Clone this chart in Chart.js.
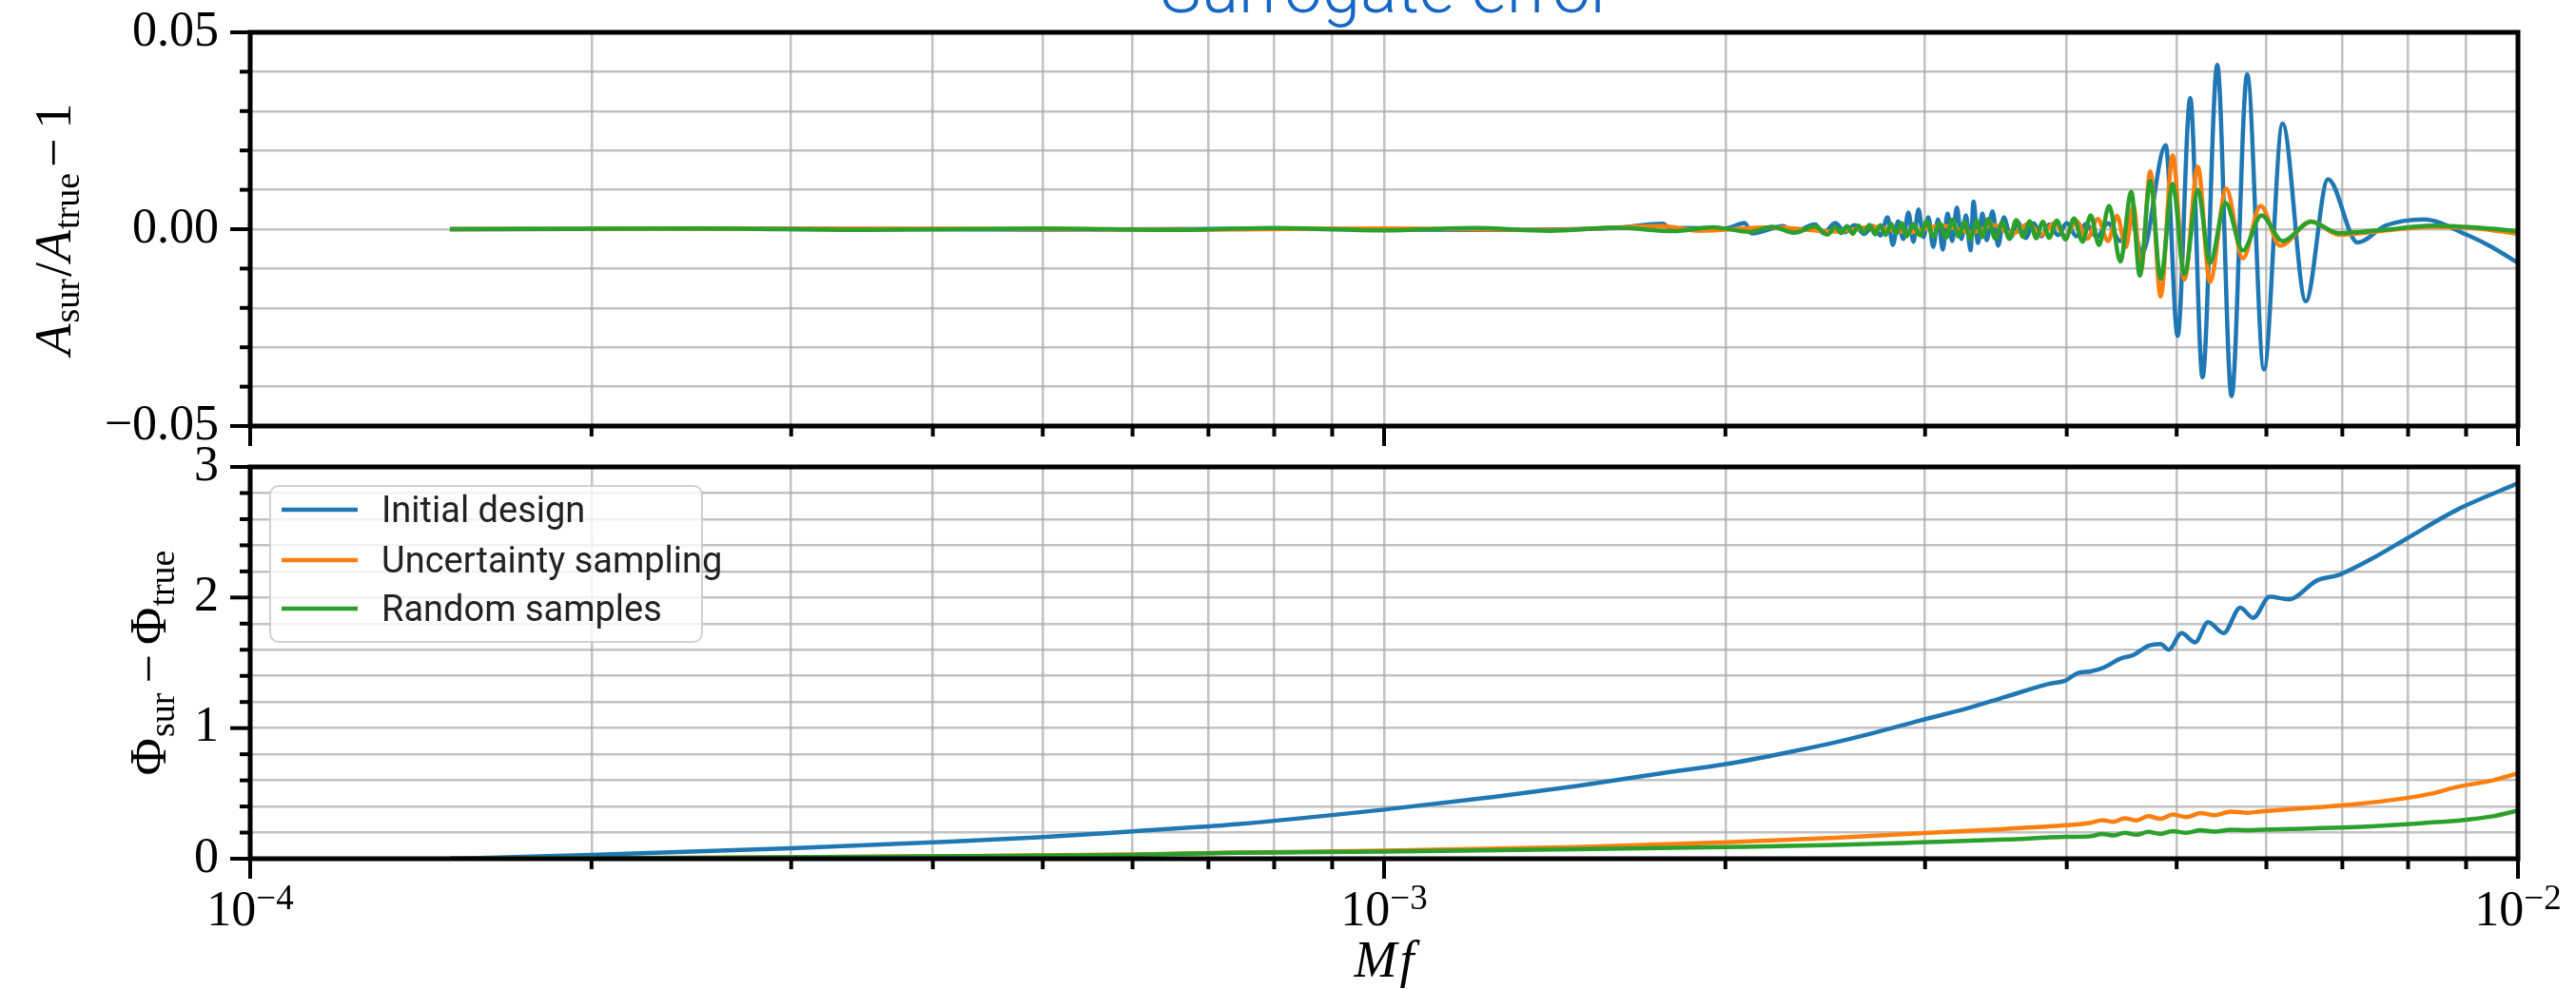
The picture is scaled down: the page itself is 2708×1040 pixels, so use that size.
<!DOCTYPE html>
<html>
<head>
<meta charset="utf-8">
<title>Surrogate error</title>
<script src="https://cdn.jsdelivr.net/npm/chart.js@4.4.1/dist/chart.umd.min.js"></script>
<style>
  html, body { margin: 0; padding: 0; background: #fff; width: 2708px; height: 1040px; overflow: hidden; }
  #ampBox { position: absolute; left: 0; top: 0; width: 2708px; height: 470px; }
  #phaseBox { position: absolute; left: 0; top: 470px; width: 2708px; height: 570px; }
</style>
</head>
<body>
<div id="ampBox"><canvas id="ampChart"></canvas></div>
<div id="phaseBox"><canvas id="phaseChart"></canvas></div>
<script>
// ---------------------------------------------------------------------------
// Series
// ---------------------------------------------------------------------------
const seriesLabels = ['Initial design', 'Uncertainty sampling', 'Random samples'];
const seriesColors = ['#1f77b4', '#ff7f0e', '#2ca02c'];

// Amplitude error A_sur/A_true - 1 (upper panel)
const ampFreqBlue = [0.00015,0.0003,0.0005,0.0008,0.0012,0.0016,0.00176,0.0018,0.00183,0.002,0.00208,0.00211,0.00225,0.00229,0.0024,0.00244,0.0025,0.00255,0.0026,0.00265,0.0027,0.00274,0.00278,0.00281,0.00284,0.00287,0.0029,0.00293,0.00296,0.00299,0.00302,0.00305,0.00308,0.00311,0.00314,0.00317,0.0032,0.00323,0.00326,0.00329,0.00331,0.00334,0.00337,0.0034,0.00344,0.00348,0.00352,0.00357,0.00362,0.00368,0.00374,0.0038,0.00386,0.00393,0.004,0.00408,0.00416,0.00425,0.00435,0.00446,0.00456,0.00466,0.00489,0.00501,0.00514,0.00527,0.00543,0.00559,0.00577,0.00597,0.0062,0.0065,0.0068,0.00722,0.00764,0.00826,0.00901,0.00949,0.01];
const ampErrBlue = [0,0.0001,-0.0001,0.0001,-0.0002,0.0003,0.0014,-0.0004,0.0003,0.0002,0.0016,-0.0011,0.0008,-0.0008,0.0012,-0.001,0.0016,-0.0008,0.001,-0.0012,0.0008,-0.0016,0.003,-0.004,0.002,-0.0025,0.0042,-0.0032,0.005,-0.002,0.003,-0.0045,0.0025,-0.0052,0.004,-0.003,0.0055,-0.0025,0.0035,-0.0054,0.007,-0.0035,0.004,-0.0028,0.0045,-0.0042,0.003,-0.002,0.0018,-0.0022,0.0015,-0.0018,0.0012,-0.0015,0.0016,-0.0018,0.0014,-0.002,0.0015,-0.003,0.0025,-0.0062,0.0213,-0.0271,0.0333,-0.0376,0.0417,-0.0424,0.0393,-0.0356,0.0268,-0.0183,0.0127,-0.0034,0.0009,0.0025,-0.0014,-0.0046,-0.0086];

const ampFreqOrange = [0.00015,0.0004,0.0007,0.001,0.0014,0.00176,0.0019,0.0022,0.0025,0.0027,0.0029,0.0031,0.0033,0.00345,0.00358,0.0037,0.0038,0.0039,0.00399,0.00408,0.00417,0.00426,0.00435,0.00443,0.00451,0.00458,0.00465,0.00474,0.00484,0.00496,0.00508,0.00522,0.00535,0.00553,0.00572,0.00593,0.00617,0.00657,0.00695,0.0076,0.0084,0.0092,0.01];
const ampErrOrange = [0,0.0001,-0.0001,0.0002,-0.0002,0.0008,-0.0004,0.0005,-0.0006,0.0006,-0.0008,0.0009,-0.0008,0.001,-0.0012,0.0013,-0.0014,0.0016,-0.0018,0.002,-0.0024,0.0026,-0.003,0.0034,-0.0045,0.006,-0.0105,0.0147,-0.0171,0.0188,-0.0128,0.0159,-0.0134,0.0103,-0.0074,0.0059,-0.0042,0.002,-0.0014,-0.0004,0.0006,0.0002,-0.0012];

const ampFreqGreen = [0.00015,0.00025,0.00035,0.0005,0.00065,0.0008,0.001,0.0012,0.0014,0.0016,0.0018,0.00195,0.0021,0.0022,0.0023,0.0024,0.00246,0.0025,0.00253,0.00256,0.00259,0.00262,0.00265,0.00268,0.00271,0.00274,0.00277,0.0028,0.00283,0.00286,0.00289,0.00293,0.00297,0.00301,0.00305,0.00309,0.00313,0.00317,0.00321,0.00325,0.00329,0.00333,0.00337,0.00341,0.00346,0.00351,0.00356,0.00361,0.00366,0.00371,0.00376,0.00381,0.00386,0.00392,0.00399,0.00406,0.00413,0.0042,0.00427,0.00436,0.00446,0.00456,0.00464,0.00474,0.00484,0.00496,0.00508,0.00522,0.00535,0.00552,0.00572,0.00594,0.0062,0.00657,0.00695,0.0076,0.0084,0.0092,0.01];
const ampErrGreen = [0,0.0002,-0.0002,0.0002,-0.0002,0.0003,-0.0003,0.0003,-0.0004,0.0004,-0.0005,0.0005,-0.0007,0.0006,-0.0009,0.0007,-0.0014,0.0006,-0.001,0.0008,-0.0012,0.0009,-0.0008,0.0011,-0.0013,0.001,-0.0015,0.0014,-0.0011,0.0016,-0.0018,0.0013,-0.0016,0.002,-0.0019,0.0015,-0.0022,0.0024,-0.0018,0.0019,-0.0026,0.0022,-0.002,0.0026,-0.0024,0.0018,-0.0025,0.0023,-0.0019,0.002,-0.0023,0.0019,-0.0022,0.0022,-0.0026,0.0027,-0.0032,0.0035,-0.004,0.0059,-0.0082,0.0095,-0.0118,0.0123,-0.0126,0.0115,-0.0114,0.0099,-0.0086,0.0067,-0.0054,0.0035,-0.003,0.0019,-0.001,-0.0002,0.0009,0.0004,-0.0005];

// Phase error Phi_sur - Phi_true (lower panel)
const phaseFreqBlue = [0.00015,0.0002,0.0003,0.0004,0.0005,0.0006,0.00074,0.001,0.00125,0.00148,0.00176,0.002,0.00229,0.0025,0.00272,0.00297,0.00324,0.00353,0.00385,0.00399,0.00409,0.0042,0.00431,0.00446,0.00458,0.00472,0.00484,0.00492,0.00505,0.00519,0.00533,0.0055,0.00569,0.00584,0.00604,0.00628,0.00665,0.00695,0.00744,0.00798,0.00885,0.01];
const phaseErrBlue = [0,0.03,0.08,0.125,0.165,0.21,0.264,0.376,0.473,0.557,0.655,0.724,0.821,0.891,0.969,1.059,1.142,1.239,1.337,1.365,1.421,1.435,1.463,1.532,1.56,1.63,1.644,1.6,1.727,1.657,1.811,1.727,1.922,1.844,2.006,1.986,2.131,2.173,2.299,2.452,2.675,2.875];

const phaseFreqOrange = [0.00015,0.00025,0.0004,0.0006,0.00074,0.001,0.00148,0.002,0.0025,0.00297,0.00353,0.00399,0.0042,0.0043,0.0044,0.0045,0.00461,0.00472,0.00484,0.00496,0.0051,0.00525,0.0054,0.00558,0.00578,0.00594,0.0063,0.00707,0.00798,0.0084,0.00885,0.0095,0.01];
const phaseErrOrange = [0,0.008,0.018,0.033,0.047,0.061,0.089,0.125,0.161,0.194,0.228,0.256,0.275,0.295,0.282,0.31,0.293,0.325,0.305,0.338,0.318,0.35,0.333,0.36,0.352,0.362,0.38,0.412,0.465,0.5,0.551,0.6,0.654];

const phaseFreqGreen = [0.00015,0.00025,0.0004,0.0006,0.00074,0.001,0.00148,0.002,0.0025,0.00297,0.00353,0.00399,0.0042,0.0043,0.0044,0.0045,0.00461,0.00472,0.00484,0.00496,0.0051,0.00525,0.0054,0.00558,0.00578,0.00594,0.0063,0.00707,0.00798,0.0084,0.00885,0.0095,0.01];
const phaseErrGreen = [0,0.008,0.018,0.03,0.045,0.055,0.072,0.089,0.105,0.125,0.147,0.167,0.172,0.19,0.178,0.198,0.183,0.205,0.19,0.212,0.198,0.218,0.207,0.222,0.218,0.222,0.228,0.24,0.264,0.278,0.292,0.325,0.368];

// ---------------------------------------------------------------------------
// Axes: limits, grid positions and labelled ticks
// ---------------------------------------------------------------------------
const freqRange = [1e-4, 1e-2];
const freqGrid = [1e-4,2e-4,3e-4,4e-4,5e-4,6e-4,7e-4,8e-4,9e-4,1e-3,2e-3,3e-3,4e-3,5e-3,6e-3,7e-3,8e-3,9e-3,1e-2];
const freqLabelled = [1e-4, 1e-3, 1e-2];

const ampRange = [-0.05, 0.05];
const ampGrid = [-0.05,-0.04,-0.03,-0.02,-0.01,0,0.01,0.02,0.03,0.04,0.05];
const ampLabelled = [-0.05, 0, 0.05];

const phaseRange = [0, 3];
const phaseGrid = [0,0.2,0.4,0.6,0.8,1,1.2,1.4,1.6,1.8,2,2.2,2.4,2.6,2.8,3];
const phaseLabelled = [0, 1, 2, 3];

// ---------------------------------------------------------------------------
// Page geometry and styling
// ---------------------------------------------------------------------------
const PAGE_W = 2708;
const PLOT_LEFT = 263, PLOT_RIGHT = 2647;
const AMP_H = 470, AMP_TOP = 34, AMP_BOTTOM = 448;
const PHASE_OFFSET = 470, PHASE_H = 570, PHASE_TOP = 491, PHASE_BOTTOM = 903;

const SERIF = '"Liberation Serif", "DejaVu Serif", serif';
const SANS = 'Roboto, "Liberation Sans", "DejaVu Sans", sans-serif';
const GRID_COLOR = 'rgba(170,170,170,0.72)';
const TICK_FONT_PX = 52;

function points(xs, ys) { return xs.map((x, i) => ({ x, y: ys[i] })); }

function isMember(list, v) { return list.some(m => Math.abs(m - v) <= 1e-9 * Math.max(1e-3, Math.abs(m))); }

function lineDataset(i, xs, ys) {
  return {
    label: seriesLabels[i],
    data: points(xs, ys),
    borderColor: seriesColors[i],
    backgroundColor: seriesColors[i],
    borderWidth: 4.5,
    pointRadius: 0,
    pointHoverRadius: 0,
    fill: false,
    tension: 0.4,
    cubicInterpolationMode: 'monotone',
    order: 3 - i
  };
}

// Rich text (sub/superscripts) drawn piece by piece along a baseline
function richWidth(ctx, parts) {
  let w = 0;
  for (const p of parts) { ctx.font = p.font; w += ctx.measureText(p.text).width + (p.gap || 0); }
  return w;
}
function drawRich(ctx, parts, x, y) {
  for (const p of parts) {
    ctx.font = p.font;
    ctx.fillText(p.text, x, y + (p.dy || 0));
    x += ctx.measureText(p.text).width + (p.gap || 0);
  }
}

const MAIN_RM = '54px ' + SERIF;
const MAIN_IT = 'italic 54px ' + SERIF;
const SUB_RM = '38px ' + SERIF;

// Ticks (major/minor) and the four spines of each panel
const frameTicks = {
  id: 'frameTicks',
  afterDraw(chart, args, opts) {
    const { ctx, chartArea: a } = chart;
    const xs = chart.scales.x, ys = chart.scales.y;
    ctx.save();
    ctx.strokeStyle = '#000';
    ctx.lineCap = 'butt';
    ctx.lineWidth = 4;
    for (const t of xs.ticks) {
      const px = xs.getPixelForValue(t.value);
      const len = isMember(freqLabelled, t.value) ? 21 : 11;
      ctx.beginPath(); ctx.moveTo(px, a.bottom); ctx.lineTo(px, a.bottom + len); ctx.stroke();
    }
    for (const t of ys.ticks) {
      const py = ys.getPixelForValue(t.value);
      const len = isMember(opts.labelled, t.value) ? 21 : 11;
      ctx.beginPath(); ctx.moveTo(a.left, py); ctx.lineTo(a.left - len, py); ctx.stroke();
    }
    ctx.lineWidth = 5;
    ctx.strokeRect(a.left, a.top, a.right - a.left, a.bottom - a.top);
    ctx.restore();
  }
};

// Axis titles and powers-of-ten labels
const axisText = {
  id: 'axisText',
  afterDraw(chart, args, opts) {
    const { ctx, chartArea: a } = chart;
    ctx.save();
    ctx.fillStyle = '#000';
    ctx.textBaseline = 'alphabetic';
    ctx.textAlign = 'left';
    // rotated y title
    const w = richWidth(ctx, opts.yTitle);
    ctx.save();
    ctx.translate(opts.yTitleX, (a.top + a.bottom) / 2);
    ctx.rotate(-Math.PI / 2);
    drawRich(ctx, opts.yTitle, -w / 2, 0);
    ctx.restore();
    if (opts.xLabels) {
      const xs = chart.scales.x;
      for (const v of freqLabelled) {
        const e = Math.round(Math.log10(v));
        const parts = [
          { text: '10', font: TICK_FONT_PX + 'px ' + SERIF },
          { text: (e < 0 ? '\u2212' : '') + Math.abs(e), font: '37px ' + SERIF, dy: -17 }
        ];
        const pw = richWidth(ctx, parts);
        drawRich(ctx, parts, xs.getPixelForValue(v) - pw / 2, opts.xLabelBaseline);
      }
      const tParts = [{ text: 'M', font: MAIN_IT, gap: 3 }, { text: 'f', font: MAIN_IT }];
      const tw = richWidth(ctx, tParts);
      drawRich(ctx, tParts, (a.left + a.right) / 2 - tw / 2, opts.xTitleBaseline);
    }
    ctx.restore();
  }
};

// Figure heading
const heading = {
  id: 'heading',
  afterDraw(chart) {
    const { ctx } = chart;
    ctx.save();
    ctx.font = '300 72px ' + SANS;
    ctx.fillStyle = '#1565c4';
    ctx.textAlign = 'center';
    ctx.textBaseline = 'alphabetic';
    ctx.fillText('Surrogate error', 1458, 13);
    ctx.restore();
  }
};

// Legend box in the upper-left of the phase panel
const legendBox = {
  id: 'legendBox',
  afterDraw(chart) {
    const { ctx } = chart;
    const x0 = 284, y0 = 511 - PHASE_OFFSET, x1 = 738, y1 = 675 - PHASE_OFFSET, r = 9;
    ctx.save();
    ctx.beginPath();
    ctx.roundRect(x0, y0, x1 - x0, y1 - y0, r);
    ctx.fillStyle = 'rgba(255,255,255,0.8)';
    ctx.fill();
    ctx.lineWidth = 2;
    ctx.strokeStyle = 'rgba(204,204,204,0.9)';
    ctx.stroke();
    ctx.font = '38px ' + SANS;
    ctx.textAlign = 'left';
    ctx.textBaseline = 'alphabetic';
    const rows = [536, 589, 640];
    chart.data.datasets.forEach((ds, i) => {
      const y = rows[i] - PHASE_OFFSET;
      ctx.strokeStyle = ds.borderColor;
      ctx.lineWidth = 4.5;
      ctx.beginPath(); ctx.moveTo(296, y); ctx.lineTo(376, y); ctx.stroke();
      ctx.fillStyle = '#222';
      ctx.fillText(ds.label, 401, y + 13);
    });
    ctx.restore();
  }
};

function xScale(height) {
  return {
    type: 'logarithmic',
    min: freqRange[0], max: freqRange[1],
    position: 'bottom',
    afterBuildTicks(scale) { scale.ticks = freqGrid.map(v => ({ value: v })); },
    afterFit(scale) {
      scale.height = height;
      scale.paddingLeft = 0; scale.paddingRight = 0; scale.paddingTop = 0; scale.paddingBottom = 0;
    },
    ticks: { display: false },
    grid: { color: GRID_COLOR, lineWidth: 2.5, drawTicks: false },
    border: { display: false }
  };
}

function yScale(range, grid, labelled, fmt) {
  return {
    type: 'linear',
    min: range[0], max: range[1],
    position: 'left',
    afterBuildTicks(scale) { scale.ticks = grid.map(v => ({ value: v })); },
    afterFit(scale) {
      scale.width = PLOT_LEFT;
      scale.paddingLeft = 0; scale.paddingRight = 0; scale.paddingTop = 0; scale.paddingBottom = 0;
    },
    ticks: {
      autoSkip: false,
      padding: 33,
      color: '#000',
      font: { family: SERIF, size: TICK_FONT_PX },
      callback: (v) => isMember(labelled, v) ? fmt(v) : ''
    },
    grid: { color: GRID_COLOR, lineWidth: 2.5, drawTicks: false },
    border: { display: false }
  };
}

const common = {
  responsive: true,
  maintainAspectRatio: false,
  animation: false,
  events: []
};

new Chart(document.getElementById('ampChart'), {
  type: 'line',
  data: {
    datasets: [
      lineDataset(0, ampFreqBlue, ampErrBlue),
      lineDataset(1, ampFreqOrange, ampErrOrange),
      lineDataset(2, ampFreqGreen, ampErrGreen)
    ]
  },
  options: Object.assign({}, common, {
    layout: { padding: { top: AMP_TOP, right: PAGE_W - PLOT_RIGHT, bottom: 0, left: 0 } },
    scales: {
      x: xScale(AMP_H - AMP_BOTTOM),
      y: yScale(ampRange, ampGrid, ampLabelled, v => (v < 0 ? '\u2212' : '') + Math.abs(v).toFixed(2))
    },
    plugins: {
      legend: { display: false },
      title: { display: false },
      tooltip: { enabled: false },
      frameTicks: { labelled: ampLabelled },
      axisText: {
        yTitleX: 74,
        yTitle: [
          { text: 'A', font: MAIN_IT, gap: 1 },
          { text: 'sur', font: SUB_RM, dy: 9, gap: 2 },
          { text: '/', font: MAIN_RM, gap: 1 },
          { text: 'A', font: MAIN_IT, gap: 1 },
          { text: 'true', font: SUB_RM, dy: 9, gap: 6 },
          { text: '\u2212', font: MAIN_RM, gap: 10 },
          { text: '1', font: MAIN_RM }
        ],
        xLabels: false
      }
    }
  }),
  plugins: [frameTicks, axisText, heading]
});

new Chart(document.getElementById('phaseChart'), {
  type: 'line',
  data: {
    datasets: [
      lineDataset(0, phaseFreqBlue, phaseErrBlue),
      lineDataset(1, phaseFreqOrange, phaseErrOrange),
      lineDataset(2, phaseFreqGreen, phaseErrGreen)
    ]
  },
  options: Object.assign({}, common, {
    layout: { padding: { top: PHASE_TOP - PHASE_OFFSET, right: PAGE_W - PLOT_RIGHT, bottom: 0, left: 0 } },
    scales: {
      x: xScale(PHASE_H - (PHASE_BOTTOM - PHASE_OFFSET)),
      y: yScale(phaseRange, phaseGrid, phaseLabelled, v => String(Math.round(v)))
    },
    plugins: {
      legend: { display: false },
      title: { display: false },
      tooltip: { enabled: false },
      frameTicks: { labelled: phaseLabelled },
      axisText: {
        yTitleX: 174,
        yTitle: [
          { text: '\u03A6', font: MAIN_RM, gap: 1 },
          { text: 'sur', font: SUB_RM, dy: 9, gap: 10 },
          { text: '\u2212', font: MAIN_RM, gap: 10 },
          { text: '\u03A6', font: MAIN_RM, gap: 1 },
          { text: 'true', font: SUB_RM, dy: 9 }
        ],
        xLabels: true,
        xLabelBaseline: 973 - PHASE_OFFSET,
        xTitleBaseline: 1027 - PHASE_OFFSET
      }
    }
  }),
  plugins: [frameTicks, axisText, legendBox]
});
</script>
</body>
</html>
